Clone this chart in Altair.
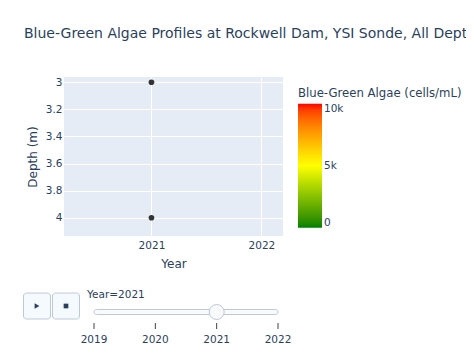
import altair as alt
import pandas as pd

# ---- data ----
years = [2021, 2021]
depths = [3.0, 4.0]
slider_years = [2019, 2020, 2021, 2022]
current_year = 2021
color_domain = [0, 5000, 10000]
color_range = ["#008000", "#ffff00", "#ff0000"]
x_ticks = [2021, 2022]
y_ticks = [3, 3.2, 3.4, 3.6, 3.8, 4]
title_text = "Blue-Green Algae Profiles at Rockwell Dam, YSI Sonde, All Depths"

FONT = "DejaVu Sans"
TXT = "#2a3f5f"
W, H = 219, 159

pts = pd.DataFrame({"Year": years, "Depth": depths})
sl = pd.DataFrame({"yr": slider_years})
cd = pd.DataFrame({"v": color_domain})
one = pd.DataFrame({"a": [0]})

points = alt.Chart(pts).mark_circle(size=32, color="#333333", opacity=1).encode(
    x=alt.X("Year:Q", scale=alt.Scale(domain=[2020.205, 2022.196], nice=False, zero=False),
            axis=alt.Axis(values=x_ticks, format="d", title="Year", grid=True)),
    y=alt.Y("Depth:Q", scale=alt.Scale(domain=[2.961, 4.135], nice=False, zero=False, reverse=True),
            axis=alt.Axis(values=y_ticks, format="~g", title="Depth (m)", grid=True)),
)

legend_layer = alt.Chart(cd).mark_point(opacity=0).encode(
    x=alt.value(0), y=alt.value(0),
    color=alt.Color("v:Q", scale=alt.Scale(domain=color_domain, range=color_range),
                    legend=alt.Legend(title="Blue-Green Algae (cells/mL)", orient="none",
                                      legendX=234, legendY=11, direction="vertical",
                                      gradientLength=124, gradientThickness=24,
                                      values=color_domain,
                                      labelExpr="datum.value == 0 ? '0' : format(datum.value / 1000, 'd') + 'k'",
                                      titleFont=FONT, titleFontSize=11.7, titleFontWeight="normal",
                                      titleColor=TXT, labelFont=FONT, labelFontSize=10.5,
                                      labelColor=TXT, titlePadding=4, labelOffset=2,
                                      gradientStrokeWidth=0)),
)

title = alt.Chart(one).mark_text(text=title_text, align="left", baseline="middle",
                                 font=FONT, fontSize=14, color=TXT).encode(
    x=alt.value(-40), y=alt.value(-43))

sx = alt.Scale(domain=[2019, 2022], range=[30, 214], nice=False, zero=False)

track = alt.Chart(pd.DataFrame({"a": [slider_years[0]], "b": [slider_years[-1]]})).mark_rect(
    fill="#f8fafc", stroke="#bec8d9", strokeWidth=1, cornerRadius=2.5).encode(
    x=alt.X("a:Q", scale=sx, axis=None), x2="b:Q",
    y=alt.value(232.5), y2=alt.value(237.5))

ticks = alt.Chart(sl).mark_rule(color="#444444", strokeWidth=1).encode(
    x=alt.X("yr:Q", scale=sx, axis=None), y=alt.value(246), y2=alt.value(252))

tick_labels = alt.Chart(sl).mark_text(font=FONT, fontSize=10.5, color=TXT, baseline="middle").encode(
    x=alt.X("yr:Q", scale=sx, axis=None), y=alt.value(262.5), text=alt.Text("yr:Q", format="d"))

handle = alt.Chart(sl).transform_filter(alt.datum.yr == current_year).mark_point(
    shape="circle", filled=True, size=225, fill="#f8fafc", stroke="#bec8d9",
    strokeWidth=1, opacity=1).encode(
    x=alt.X("yr:Q", scale=sx, axis=None), y=alt.value(235))

cur_label = alt.Chart(one).mark_text(text=f"Year={current_year}", align="left", baseline="middle",
                                     font=FONT, fontSize=10.5, color=TXT).encode(
    x=alt.value(23), y=alt.value(217.5))

btn_play = alt.Chart(one).mark_rect(fill="#f4faff", stroke="#bec8d9", strokeWidth=1,
                                    cornerRadius=3).encode(
    x=alt.value(-40.5), x2=alt.value(-13.5), y=alt.value(216), y2=alt.value(242))
btn_stop = alt.Chart(one).mark_rect(fill="#f4faff", stroke="#bec8d9", strokeWidth=1,
                                    cornerRadius=3).encode(
    x=alt.value(-11.5), x2=alt.value(15.5), y=alt.value(216), y2=alt.value(242))
play_glyph = alt.Chart(one).mark_point(shape="triangle-right", filled=True, size=30,
                                       color="#2a3f5f", opacity=1).encode(
    x=alt.value(-27), y=alt.value(229))
stop_glyph = alt.Chart(one).mark_point(shape="square", filled=True, size=22,
                                       color="#2a3f5f", opacity=1).encode(
    x=alt.value(2), y=alt.value(229))

chart = alt.layer(
    points, legend_layer, title, track, ticks, tick_labels, handle, cur_label,
    btn_play, btn_stop, play_glyph, stop_glyph
).resolve_scale(x="independent").properties(
    width=W, height=H,
    autosize=alt.AutoSizeParams(type="none"),
    padding={"left": 56, "top": 69, "right": 183, "bottom": 110},
).configure_view(
    fill="#E5ECF6", stroke=None
).configure_axis(
    domain=False, ticks=False, gridColor="white", gridWidth=1,
    labelFont=FONT, labelFontSize=10.5, labelColor=TXT,
    titleFont=FONT, titleFontSize=12, titleColor=TXT, titleFontWeight="normal",
).configure_axisX(labelPadding=4, titlePadding=8).configure_axisY(
    labelPadding=2, titlePadding=6
)

chart.save("out.html", embed_options={"renderer": "svg", "actions": False})
